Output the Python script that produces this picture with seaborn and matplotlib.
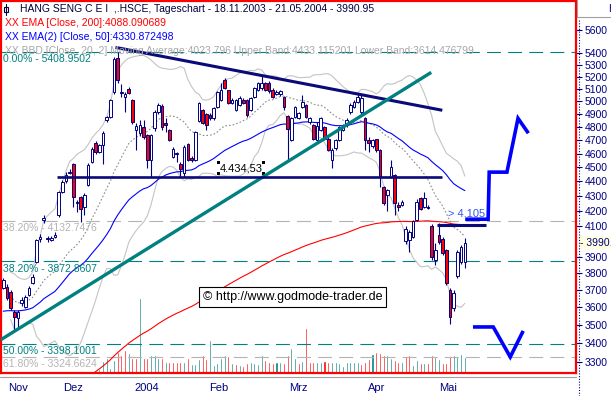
import numpy as np
import pandas as pd
import matplotlib
matplotlib.use("Agg")
import matplotlib.pyplot as plt
from matplotlib.lines import Line2D
from matplotlib.patches import Rectangle
from matplotlib.ticker import NullLocator
import seaborn as sns

# --- Tageskerzen HANG SENG C E I (.HSCE), 18.11.2003 - 21.05.2004 ---
opens = [3712, 3720, 3690, 3574, 3537, 3623, 3603, 3671, 3741, 3872,
         4015, 4135, 4022, 4010, 4030, 4170, 4327, 4400, 4462, 4525,
         4259, 4293, 4225, 4373, 4540, 4678, 4612, 4661, 4851, 4877,
         5075, 5360, 5067, 5035, 5100, 5008, 4775, 4750, 4797, 4735,
         4552, 4790, 4912, 4960, 4830, 4774, 4575, 4595, 4525, 4459,
         4672, 4570, 4552, 4843, 4929, 4900, 4895, 4865, 4953, 5008,
         5170, 5088, 4990, 4929, 4968, 5008, 5008, 4929, 5035, 5090,
         5105, 5145, 5150, 5095, 5060, 5055, 5035, 4882, 4699, 4875,
         4870, 4953, 4968, 4836, 4812, 4699, 4775, 4797, 4712, 4552,
         4640, 4700, 4775, 4812, 4912, 4953, 4993, 4912, 4867, 4699,
         4655, 4705, 4625, 4360, 4305, 4434, 4443, 4235, 4240, 4000,
         4007, 4030, 4137, 4287, 4225, 4225, 4098, 3882, 4040, 4015,
         3944, 3700, 3594, 3784, 3870, 3870]
highs = [3775, 3735, 3700, 3585, 3585, 3660, 3670, 3725, 3795, 4015,
         4045, 4168, 4035, 4032, 4060, 4335, 4410, 4470, 4490, 4535,
         4270, 4300, 4320, 4530, 4650, 4690, 4672, 4765, 4888, 5022,
         5370, 5409, 5140, 5075, 5115, 5015, 4830, 4850, 4850, 4745,
         4745, 4935, 4985, 4975, 4870, 4785, 4645, 4612, 4540, 4660,
         4680, 4580, 4770, 4995, 4940, 4910, 4905, 4955, 5085, 5150,
         5190, 5095, 5030, 5020, 5040, 5030, 5015, 5035, 5115, 5160,
         5210, 5160, 5165, 5110, 5090, 5095, 5045, 4890, 4880, 4965,
         4915, 5050, 4980, 4880, 4825, 4840, 4880, 4810, 4720, 4640,
         4710, 4810, 4820, 4865, 4985, 5010, 5060, 5050, 4880, 4720,
         4710, 4712, 4635, 4370, 4345, 4550, 4450, 4260, 4270, 4100,
         4070, 4140, 4280, 4295, 4330, 4235, 4110, 3990, 4120, 4030,
         3950, 3712, 3700, 3944, 3975, 4020]
lows = [3705, 3645, 3585, 3472, 3490, 3610, 3598, 3665, 3735, 3865,
        3995, 4118, 3998, 4000, 4020, 4160, 4318, 4390, 4450, 4225,
        4190, 4126, 4170, 4365, 4530, 4600, 4605, 4525, 4840, 4870,
        5060, 5150, 5035, 4915, 5055, 4825, 4625, 4730, 4710, 4495,
        4430, 4770, 4900, 4780, 4760, 4690, 4565, 4540, 4430, 4430,
        4545, 4540, 4545, 4835, 4820, 4780, 4855, 4855, 4945, 5000,
        5100, 4975, 4975, 4920, 4960, 4975, 4880, 4920, 5025, 5080,
        5095, 5080, 5070, 5025, 5050, 5040, 4930, 4552, 4690, 4865,
        4860, 4945, 4865, 4825, 4700, 4690, 4765, 4700, 4620, 4495,
        4630, 4690, 4765, 4800, 4900, 4945, 4985, 4900, 4625, 4610,
        4640, 4615, 4360, 4240, 4200, 4425, 4170, 4200, 4230, 3985,
        3930, 4020, 4130, 4205, 4215, 4210, 3880, 3850, 3985, 3915,
        3730, 3506, 3580, 3775, 3860, 3830]
closes = [3760, 3652, 3594, 3546, 3574, 3642, 3661, 3712, 3780, 4007,
          4025, 4150, 4012, 4022, 4040, 4327, 4397, 4443, 4470, 4293,
          4250, 4214, 4305, 4520, 4637, 4612, 4661, 4757, 4877, 5013,
          5351, 5170, 5075, 5060, 5065, 4836, 4805, 4812, 4720, 4552,
          4735, 4912, 4968, 4797, 4815, 4699, 4637, 4605, 4490, 4650,
          4552, 4552, 4760, 4985, 4828, 4812, 4865, 4945, 5075, 5088,
          5110, 4985, 5010, 5008, 5025, 4985, 4890, 5025, 5105, 5145,
          5145, 5088, 5080, 5035, 5075, 5080, 4953, 4782, 4867, 4953,
          4905, 4995, 4875, 4867, 4712, 4805, 4867, 4712, 4630, 4630,
          4699, 4797, 4805, 4851, 4968, 4993, 5035, 5030, 4699, 4680,
          4699, 4625, 4434, 4253, 4339, 4502, 4253, 4225, 4259, 4080,
          4060, 4130, 4259, 4214, 4287, 4218, 3900, 3944, 3995, 3925,
          3741, 3547, 3684, 3932, 3963, 3991]
volume = [1, 1, 1, 1, 1, 1, 1, 1, 1, 1, 1, 1, 1, 1, 1, 1, 1, 1, 1, 1,
          1, 1, 1, 1, 1, 1,
          4, 12, 15, 5, 13, 21, 18, 23, 20, 15, 15, 75, 15, 15, 18, 18, 15, 15,
          11, 11, 11, 11, 11, 11, 15, 9, 9, 14, 18, 14, 33, 8, 10, 15, 18, 17,
          10, 9, 8, 7, 10, 11, 10, 9, 18, 13, 11, 10, 11, 11, 10, 18, 25, 15, 10,
          12, 45, 11, 11, 11, 11, 12, 11, 11, 11, 10, 7, 11, 11, 11, 11, 9, 11,
          14, 19, 21, 20,
          18, 18, 15, 13, 11, 11, 17, 18, 8, 13, 10, 10, 10, 18, 16, 14, 10, 10,
          17, 18, 17, 19, 16]

holidays = ["2003-12-25", "2003-12-26", "2004-01-01", "2004-01-22", "2004-01-23",
            "2004-04-05", "2004-04-09", "2004-04-12", "2004-05-26"]
month_labels = ["Nov", "Dez", "2004", "Feb", "Mrz", "Apr", "Mai"]

ema200_seed = 3000
ema50_seed = 3570

fib_levels = [5408.9502, 4132.7476, 3872.8607, 3398.1001, 3324.6624]
fib_names = ["0.00%", "38.20%", "38.20%", "50.00%", "61.80%"]
fib_colors = ["#008080", "#b4b4b4", "#008080", "#008080", "#b4b4b4"]

# Zeichnungen: (Handelstag-Index, Kurs)
down_trend = ([30.4, 118.9], [5449, 4929])
up_trend = ([-0.7, 115.9], [3418, 5236])
support = ([14.7, 118.9], [4434.53, 4434.53])
resist = ([117.5, 130.8], [4105, 4105])
arrow_up = ([125.1, 131.3, 131.6, 136.4, 139.4, 142.2], [4143, 4143, 4466, 4466, 4866, 4752])
arrow_down = ([127.2, 132.7, 137.3, 140.8], [3489, 3489, 3326, 3467])

yticks = [3300, 3400, 3500, 3600, 3700, 3800, 3900, 4100, 4200, 4300, 4400,
          4500, 4600, 4700, 4800, 4900, 5000, 5100, 5200, 5300, 5400, 5600]

sns.set_style("white")
plt.rcParams["font.family"] = ["Liberation Sans", "DejaVu Sans"]

W, H = 611, 396
NAVY = "#000080"
TEAL = "#008080"


def fx(px):
    return px / W


def fy(py):
    return 1 - py / H


fig = plt.figure(figsize=(W / 100, H / 100), dpi=100)
ax = fig.add_axes([fx(0.5), fy(373), fx(576) - fx(0.5), fy(0.5) - fy(373)])
vax = ax.twinx()

n = len(closes)
idx = np.arange(n)
o, h, l, c = (np.array(a, dtype=float) for a in (opens, highs, lows, closes))

# Kalender
cal = pd.bdate_range("2003-11-18", "2004-05-31", freq="C", holidays=holidays)
months = pd.Series(np.arange(len(cal))).groupby(cal.to_period("M"))
month_start = months.min().values[1:]
label_pos = months.mean().values

# Indikatoren
cs = pd.Series(c)
ema200 = pd.concat([pd.Series([float(ema200_seed)]), cs], ignore_index=True).ewm(span=200, adjust=False).mean().iloc[1:].values
ema50 = pd.concat([pd.Series([float(ema50_seed)]), cs], ignore_index=True).ewm(span=50, adjust=False).mean().iloc[1:].values
bb_mid = cs.rolling(20, min_periods=3).mean()
bb_sd = cs.rolling(20, min_periods=3).std(ddof=0)
bb_up = bb_mid + 2 * bb_sd
bb_lo = bb_mid - 2 * bb_sd

# Volumen
vdir = np.where(np.diff(c, prepend=c[0]) >= 0, "up", "down")
vol_df = pd.DataFrame({"i": idx, "vol": volume, "dir": vdir})
sns.barplot(data=vol_df, x="i", y="vol", hue="dir", palette={"up": TEAL, "down": "#ff0000"},
            native_scale=True, dodge=False, width=0.55, saturation=1, errorbar=None,
            legend=False, ax=vax)
vax.set_ylim(0, 373)
vax.set_axis_off()

ax.set_zorder(vax.get_zorder() + 1)
ax.patch.set_visible(False)
ax.set_yscale("log")

# Fibonacci-Linien
for lev, name, col in zip(fib_levels, fib_names, fib_colors):
    ax.axhline(lev, color=col, lw=0.8, ls=(0, (12.5, 6.5)), zorder=1)
    ax.annotate(f"{name} - {lev:.4f}", xy=(0.004, lev), xycoords=("axes fraction", "data"),
                xytext=(0, -1.5), textcoords="offset points", va="top", ha="left",
                fontsize=7.5, color=col, zorder=6)

# Bollinger und EMA
sns.lineplot(x=idx, y=bb_up, ax=ax, color="#c4c4c4", lw=0.8, zorder=2)
sns.lineplot(x=idx, y=bb_lo, ax=ax, color="#c4c4c4", lw=0.8, zorder=2)
sns.lineplot(x=idx, y=bb_mid, ax=ax, color="#8c8c8c", lw=0.8, ls=(0, (1.5, 1.8)), zorder=2)
sns.lineplot(x=idx, y=ema50, ax=ax, color="#0000ff", lw=0.8, zorder=2)
sns.lineplot(x=idx, y=ema200, ax=ax, color="#ff0000", lw=0.8, zorder=2)

# Kerzen
ax.vlines(idx, l, h, color=NAVY, lw=0.8, zorder=3)
lo_b = np.minimum(o, c)
hi_b = np.maximum(o, c)
ax.bar(idx, hi_b - lo_b, bottom=lo_b, width=0.72,
       color=np.where(c >= o, "white", "#ff0000"), edgecolor=NAVY, linewidth=0.7, zorder=4)

# Trendlinien und Pfeile
ax.plot(*down_trend, color="#0a0a78", lw=2.2, solid_capstyle="butt", zorder=5)
ax.plot(*up_trend, color=TEAL, lw=2.4, solid_capstyle="butt", zorder=5)
ax.plot(*support, color="#0a0a78", lw=1.9, solid_capstyle="butt", zorder=5)
ax.plot(*resist, color="#0a0a78", lw=2.2, solid_capstyle="butt", zorder=5)
ax.plot(*arrow_up, color="#0000ff", lw=2.6, solid_joinstyle="miter", solid_capstyle="butt", zorder=5)
ax.plot(*arrow_down, color="#0000ff", lw=2.6, solid_joinstyle="miter", solid_capstyle="butt", zorder=5)

ax.annotate("> 4.105", xy=(resist[0][0] + 3, resist[1][0]), xytext=(0, 4), textcoords="offset points",
            va="bottom", ha="left", fontsize=8, color="#3355ee", zorder=6)
lbl = ax.annotate("4.434,53", xy=(64.4, support[1][0]), xytext=(0, 2.5), textcoords="offset points",
                  va="bottom", ha="center", fontsize=8, color="black", zorder=6)
ax.text(0.507, 0.204, "\u00a9 http://www.godmode-trader.de", transform=ax.transAxes,
        ha="center", va="center", fontsize=9, color="black", zorder=7,
        bbox=dict(boxstyle="square,pad=0.3", fc="white", ec="black", lw=0.8))

# Achsen
ax.set_xlim(-0.73, 155.1)
vax.set_xlim(-0.73, 155.1)
ax.set_ylim(3242, 5872)
ax.yaxis.tick_right()
ax.set_yticks(yticks)
ax.set_yticklabels([str(t) for t in yticks])
ax.yaxis.set_minor_locator(NullLocator())
ax.tick_params(axis="y", which="major", right=True, left=False, direction="out", length=4.3,
               width=0.8, color=NAVY, labelcolor=NAVY, labelsize=7.5, pad=2.2)
ax.set_xticks(label_pos, labels=month_labels)
ax.set_xticks(month_start, minor=True)
ax.tick_params(axis="x", which="major", length=0, labelcolor=NAVY, labelsize=8, pad=7)
ax.tick_params(axis="x", which="minor", length=5.5, width=0.8, color="black", direction="out")
ax.set_xlabel("")
ax.set_ylabel("")
for s in ax.spines.values():
    s.set_color("#ff0000")
    s.set_linewidth(1.6)

ax.annotate("- 3990.95", xy=(1, closes[-1]), xycoords=("axes fraction", "data"),
            xytext=(3, 0), textcoords="offset points", va="center", ha="left",
            fontsize=7.5, color=NAVY, annotation_clip=False,
            bbox=dict(boxstyle="square,pad=0.12", fc="#ffffe0", ec="none"))

# Kopfzeilen
fig.text(fx(20), fy(9.5), "HANG SENG C E I  ,.HSCE, Tageschart - 18.11.2003 - 21.05.2004 - 3990.95",
         fontsize=7.5, color="#00003c", va="center")
fig.text(fx(5), fy(23.5), "XX EMA [Close, 200]:4088.090689", fontsize=7.5, color="#ff0000", va="center")
fig.text(fx(5), fy(37.5), "XX EMA(2) [Close, 50]:4330.872498", fontsize=7.5, color="#0000ff", va="center")
fig.text(fx(5), fy(51), "XX BBD [Close, 20, 2] Moving Average:4023.796 Upper Band:4433.115201 "
         "Lower Band:3614.476799", fontsize=7.5, color="#a8a8a8", va="center")
fig.add_artist(Line2D([fx(6), fx(6)], [fy(4), fy(15)], color="#00003c", lw=0.8))
fig.add_artist(Rectangle((fx(4), fy(12)), fx(4), fy(7) - fy(12), fc="white", ec="#00003c", lw=0.8))
fig.text(fx(608), fy(9), "HSCE", fontsize=7.5, color=NAVY, va="center")
fig.add_artist(Line2D([fx(577), fx(577)], [fy(0), fy(17)], color="#a0a0a0", lw=0.8))
fig.add_artist(Line2D([fx(577), fx(611)], [fy(17), fy(17)], color="#a0a0a0", lw=0.8))
fig.add_artist(Line2D([fx(578.5), fx(578.5)], [fy(20), fy(396)], color=NAVY, lw=0.8, ls=(0, (1, 1.5))))
fig.add_artist(Line2D([fx(0), fx(576)], [fy(376.5), fy(376.5)], color="#a0a0a0", lw=0.8))

# Markierungsgriffe um das Kurslabel
fig.canvas.draw()
bb = lbl.get_window_extent().expanded(1.06, 1.05)
for px, py in [(bb.x0, bb.y0), (bb.x0, bb.y1), (bb.x1, bb.y0), (bb.x1, bb.y1)]:
    fig.add_artist(Rectangle((px / W - 1.5 / W, py / H - 1.5 / H), 3 / W, 3 / H,
                             fc="black", ec="none", transform=fig.transFigure))

fig.savefig("out.png", dpi=100)
